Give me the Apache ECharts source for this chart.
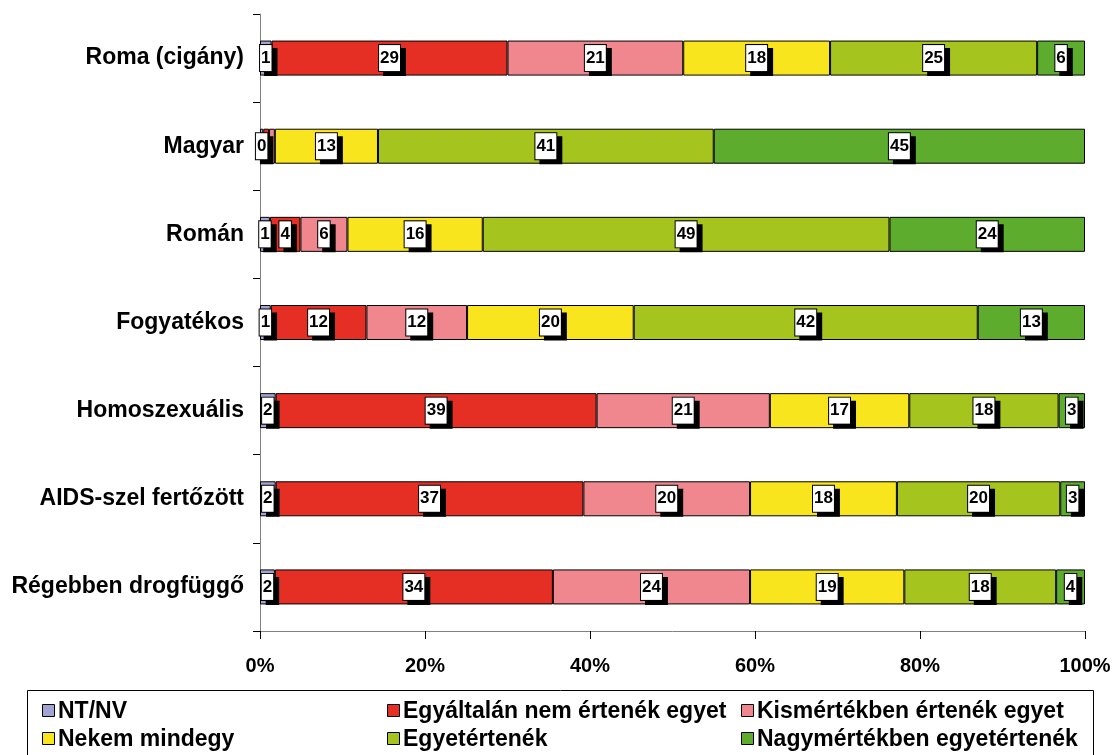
<!DOCTYPE html>
<html>
<head>
<meta charset="utf-8">
<script src="https://cdn.jsdelivr.net/npm/echarts@6/dist/echarts.min.js"></script>
<style>html,body{margin:0;padding:0;background:#fff;}#c{width:1117px;height:755px;}</style>
</head>
<body>
<div id="c"></div>
<script>
const categories = ['Roma (cigány)', 'Magyar', 'Román', 'Fogyatékos', 'Homoszexuális', 'AIDS-szel fertőzött', 'Régebben drogfüggő'];
const seriesNames = ['NT/NV', 'Egyáltalán nem értenék egyet', 'Kismértékben értenék egyet', 'Nekem mindegy', 'Egyetértenék', 'Nagymértékben egyetértenék'];
const ntnv        = [1.4, 0.4, 1.2, 1.3, 1.9, 1.9, 1.8];
const egyaltalan  = [28.6, 0.7, 3.7, 11.6, 38.9, 37.3, 33.7];
const kismertek   = [21.3, 0.7, 5.7, 12.2, 21.0, 20.2, 23.9];
const mindegy     = [17.8, 12.5, 16.4, 20.2, 16.9, 17.8, 18.7];
const egyetert    = [25.1, 40.7, 49.3, 41.7, 18.1, 19.8, 18.4];
const nagyon      = [5.8, 45.0, 23.7, 13.0, 3.2, 3.0, 3.5];
const xTicks = ['0%', '20%', '40%', '60%', '80%', '100%'];
const colors = ['#A3A3D3', '#E52F25', '#F0878F', '#F9E51E', '#A6C41E', '#5EAC2E'];

const allValues = [ntnv, egyaltalan, kismertek, mindegy, egyetert, nagyon];
const font = '"Liberation Sans", Arial, sans-serif';

const series = allValues.map((vals, si) => ({
  name: seriesNames[si],
  type: 'bar',
  stack: 'total',
  barWidth: 35,
  itemStyle: { color: colors[si], borderColor: '#000', borderWidth: 1 },
  label: {
    show: true,
    position: 'inside',
    formatter: p => String(Math.round(p.value)),
    color: '#000',
    fontFamily: font,
    fontWeight: 'bold',
    fontSize: 17,
    backgroundColor: '#fff',
    borderColor: '#000',
    borderWidth: 1,
    padding: [5, 1, 4, 1],
    shadowColor: '#000',
    shadowOffsetX: 5,
    shadowOffsetY: 4,
    shadowBlur: 0
  },
  data: vals.map(v => (si > 0 && v < 1) ? { value: v, label: { show: false } } : v)
}));

// legend drawn as boxed grid (3 columns x 2 rows)
const legendPos = [[42, 711], [387, 711], [741, 711], [42, 739], [387, 739], [741, 739]];
const legendGraphics = [{
  type: 'rect',
  shape: { x: 27.5, y: 690.5, width: 1066, height: 80 },
  style: { fill: 'none', stroke: '#000', lineWidth: 1 },
  z: 10
}];
seriesNames.forEach((name, i) => {
  const [x, y] = legendPos[i];
  legendGraphics.push({
    type: 'rect',
    shape: { x: x + 0.5, y: y - 6.5, width: 12, height: 12 },
    style: { fill: colors[i], stroke: '#000', lineWidth: 1 },
    z: 10
  });
  legendGraphics.push({
    type: 'text',
    x: x + 16, y: y + 1,
    style: {
      text: name, fill: '#000', font: 'bold 23px ' + font,
      textAlign: 'left', textVerticalAlign: 'middle'
    },
    z: 10
  });
});

const chart = echarts.init(document.getElementById('c'), null, { renderer: 'canvas' });
chart.setOption({
  animation: false,
  backgroundColor: '#fff',
  color: colors,
  grid: { left: 260, right: 32, top: 14, bottom: 124, containLabel: false },
  xAxis: {
    type: 'value',
    min: 0, max: 100, interval: 20,
    axisLine: { show: true, lineStyle: { color: '#808080', width: 1 } },
    axisTick: { show: true, length: 8, lineStyle: { color: '#000' } },
    splitLine: { show: false },
    axisLabel: {
      margin: 25,
      formatter: v => xTicks[v / 20],
      fontFamily: font, fontWeight: 'bold', fontSize: 20, color: '#000'
    }
  },
  yAxis: {
    type: 'category',
    inverse: true,
    data: categories,
    axisLine: { show: true, lineStyle: { color: '#808080', width: 1 } },
    axisTick: { show: true, length: 7, lineStyle: { color: '#000' } },
    axisLabel: { margin: 16, fontFamily: font, fontWeight: 'bold', fontSize: 23, color: '#000' }
  },
  legend: { show: false, data: seriesNames },
  graphic: legendGraphics,
  series: series
});
</script>
</body>
</html>
